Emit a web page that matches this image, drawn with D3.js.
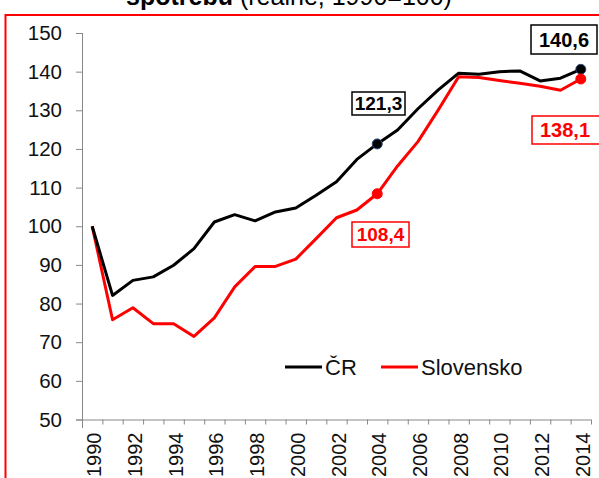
<!DOCTYPE html>
<html>
<head>
<meta charset="utf-8">
<script src="https://cdn.jsdelivr.net/npm/d3@7"></script>
<style>
  body { margin: 0; background: #fff; }
  text { font-family: "Liberation Sans", Arial, sans-serif; }
</style>
</head>
<body>
<div id="chart"></div>
<script>
const width = 599;
const height = 478;

const years = [1990, 1991, 1992, 1993, 1994, 1995, 1996, 1997, 1998, 1999, 2000, 2001, 2002,
  2003, 2004, 2005, 2006, 2007, 2008, 2009, 2010, 2011, 2012, 2013, 2014];
const yTicks = [50, 60, 70, 80, 90, 100, 110, 120, 130, 140, 150];
const labelYears = [1990, 1992, 1994, 1996, 1998, 2000, 2002, 2004, 2006, 2008, 2010, 2012, 2014];

const cr = [100, 82.1, 86.0, 86.9, 89.9, 94.2, 101.1, 103.0, 101.4, 103.7, 104.7, 108.0, 111.5,
  117.3, 121.3, 124.9, 130.4, 135.3, 139.6, 139.3, 140.0, 140.2, 137.6, 138.3, 140.6];
const sk = [100, 75.8, 78.9, 74.8, 74.8, 71.5, 76.3, 84.3, 89.6, 89.6, 91.5, 96.8, 102.2,
  104.2, 108.4, 115.6, 121.9, 130.1, 138.7, 138.5, 137.7, 137.0, 136.2, 135.2, 138.1];

// highlighted points with their value boxes
const callouts = [
  { year: 2004, value: 121.3, text: "121,3", color: "#000", size: 19, box: [352, 92, 53, 23] },
  { year: 2014, value: 140.6, text: "140,6", color: "#000", size: 20, box: [531, 25, 66, 29] },
  { year: 2004, value: 108.4, text: "108,4", color: "#ff0000", size: 19, box: [352, 222, 57, 25] },
  { year: 2014, value: 138.1, text: "138,1", color: "#ff0000", size: 20, box: [532, 116, 70, 28] }
];

const svg = d3.select("#chart")
  .append("svg")
  .attr("width", width)
  .attr("height", height);

svg.append("rect")
  .attr("width", width)
  .attr("height", height)
  .attr("fill", "white");

// red frame of the slide box
svg.append("rect")
  .attr("x", 5.5)
  .attr("y", 15)
  .attr("width", 620)
  .attr("height", 500)
  .attr("fill", "none")
  .attr("stroke", "#ff0000")
  .attr("stroke-width", 2);

// title (its top is outside the picture, as in the source)
const title = svg.append("text")
  .attr("x", 289)
  .attr("y", 5)
  .attr("text-anchor", "middle")
  .attr("font-size", 25)
  .attr("fill", "#000");
title.append("tspan").attr("font-weight", "bold").text("spotřebu");
title.append("tspan").text(" (reálně, 1990=100)");

const x = d3.scaleBand()
  .domain(years)
  .range([82, 591])
  .padding(0);

const xEdge = d3.scaleLinear()
  .domain([0, years.length])
  .range([82, 591]);

const y = d3.scaleLinear()
  .domain([50, 150])
  .range([419.5, 33]);

const cx = d => x(d) + x.bandwidth() / 2;

// y axis
const yAxis = svg.append("g")
  .attr("transform", "translate(82,0)")
  .call(d3.axisLeft(y).tickValues(yTicks).tickSize(6).tickPadding(14));
yAxis.select(".domain").attr("stroke", "#888").attr("d", "M0.5,33V428");
yAxis.selectAll(".tick line").attr("stroke", "#888");
yAxis.selectAll(".tick text")
  .attr("font-size", 20.5)
  .attr("fill", "#111")
  .attr("font-family", "Liberation Sans, Arial, sans-serif");

// x axis: ticks on category boundaries
const xTicks = svg.append("g")
  .attr("transform", "translate(0,419.5)")
  .call(d3.axisBottom(xEdge).tickValues(d3.range(0, years.length + 1)).tickSize(5).tickFormat(""));
xTicks.select(".domain").attr("stroke", "#888").attr("d", "M76,0.5H591");
xTicks.selectAll(".tick line").attr("stroke", "#888");

// x labels
const xLabels = svg.append("g")
  .attr("transform", "translate(0,419.5)")
  .call(d3.axisBottom(x).tickValues(labelYears).tickSize(0).tickPadding(0));
xLabels.select(".domain").remove();
xLabels.selectAll(".tick text")
  .attr("font-size", 20)
  .attr("fill", "#111")
  .attr("font-family", "Liberation Sans, Arial, sans-serif")
  .attr("text-anchor", "end")
  .attr("transform", "rotate(-90)")
  .attr("x", -13)
  .attr("y", 0)
  .attr("dy", "0.45em");

// lines
const line = d3.line()
  .x((d, i) => cx(years[i]))
  .y(d => y(d));

svg.append("path")
  .datum(sk)
  .attr("d", line)
  .attr("fill", "none")
  .attr("stroke", "#ff0000")
  .attr("stroke-width", 3)
  .attr("stroke-linejoin", "round");

svg.append("path")
  .datum(cr)
  .attr("d", line)
  .attr("fill", "none")
  .attr("stroke", "#000")
  .attr("stroke-width", 3)
  .attr("stroke-linejoin", "round");

// markers
svg.selectAll(".dot")
  .data(callouts)
  .enter().append("circle")
  .attr("class", "dot")
  .attr("cx", d => cx(d.year))
  .attr("cy", d => y(d.value))
  .attr("r", 5)
  .attr("fill", d => d.color)
  .attr("stroke", d => d.color === "#000" ? "#2a4a7a" : "#ff0000")
  .attr("stroke-width", 1);

// callout boxes
const boxes = svg.selectAll(".callout")
  .data(callouts)
  .enter().append("g")
  .attr("class", "callout");

boxes.append("rect")
  .attr("x", d => d.box[0])
  .attr("y", d => d.box[1])
  .attr("width", d => d.box[2])
  .attr("height", d => d.box[3])
  .attr("fill", "white")
  .attr("stroke", d => d.color)
  .attr("stroke-width", 1.5);

boxes.append("text")
  .attr("x", d => d.box[0] + d.box[2] / 2 - (d.year === 2014 && d.color !== "#000" ? 2 : 0))
  .attr("y", d => d.box[1] + d.box[3] / 2)
  .attr("dy", "0.36em")
  .attr("text-anchor", "middle")
  .attr("font-size", d => d.size)
  .attr("font-weight", "bold")
  .attr("fill", d => d.color)
  .text(d => d.text);

// legend
const legendItems = [
  { name: "ČR", color: "#000", x: 285 },
  { name: "Slovensko", color: "#ff0000", x: 381 }
];

const legend = svg.selectAll(".legend")
  .data(legendItems)
  .enter().append("g")
  .attr("class", "legend")
  .attr("transform", d => `translate(${d.x},367)`);

legend.append("line")
  .attr("x1", 0)
  .attr("x2", 37)
  .attr("stroke", d => d.color)
  .attr("stroke-width", 3);

legend.append("text")
  .attr("x", 40)
  .attr("dy", "0.35em")
  .attr("font-size", 22)
  .attr("fill", "#111")
  .text(d => d.name);
</script>
</body>
</html>
